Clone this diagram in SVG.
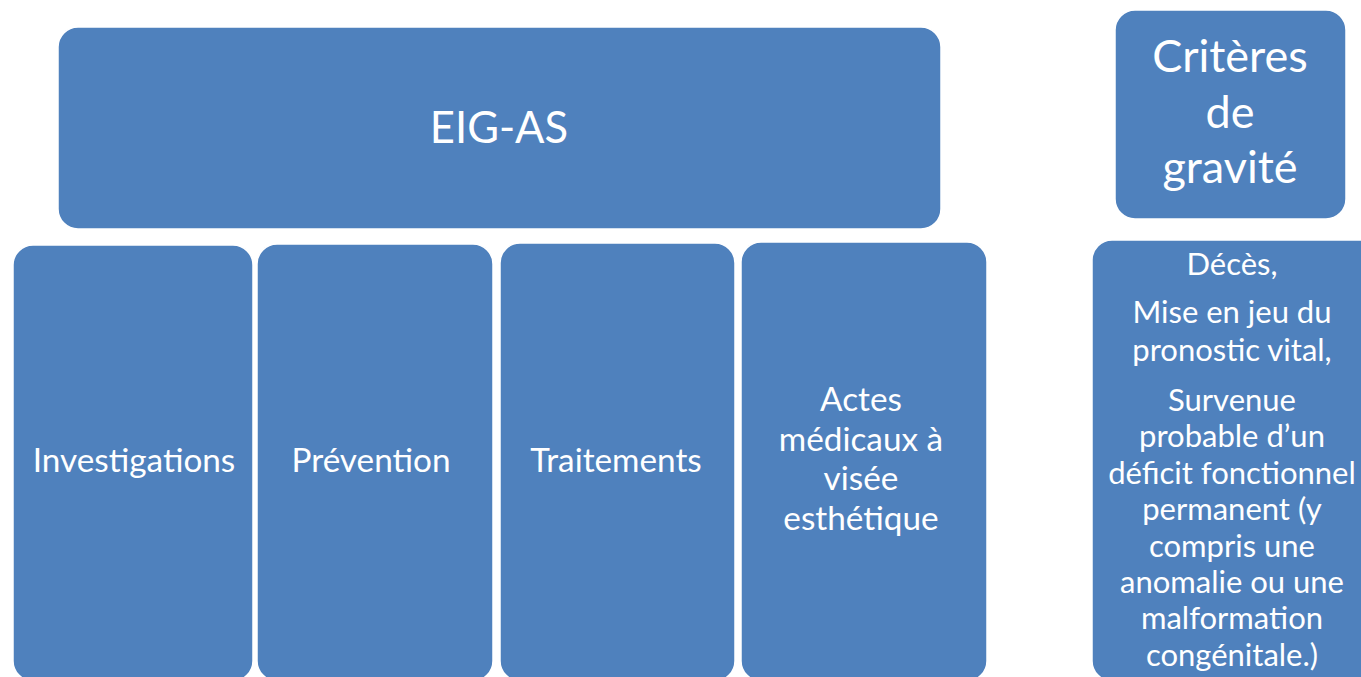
<svg xmlns="http://www.w3.org/2000/svg" width="1361" height="677" viewBox="0 0 1361 677">
<style>
.box{fill:#4F81BD;stroke:#ffffff;stroke-width:1.5}
.t{fill:#ffffff;font-family:Lato,"Open Sans","Liberation Sans",sans-serif;text-anchor:middle}
</style>
<rect width="1361" height="677" fill="#ffffff"/>
<g id="eig-as"><rect class="box" x="58" y="27" width="883" height="202" rx="20"/><text class="t" x="499" y="143" font-size="43.5">EIG-AS</text></g>
<g id="investigations"><rect class="box" x="13" y="245" width="240" height="436" rx="20"/><text class="t" x="134" y="472" font-size="33.3">Investigations</text></g>
<g id="prevention"><rect class="box" x="257" y="244" width="236" height="437" rx="20"/><text class="t" x="371" y="472" font-size="33.3">Prévention</text></g>
<g id="traitements"><rect class="box" x="500" y="243" width="235" height="438" rx="20"/><text class="t" x="616" y="472" font-size="33.3">Traitements</text></g>
<g id="actes"><rect class="box" x="741" y="242" width="246" height="439" rx="20"/><text class="t" x="861" y="411" font-size="33.3"><tspan x="861">Actes</tspan><tspan x="861" dy="39.5">médicaux à</tspan><tspan x="861" dy="39.5">visée</tspan><tspan x="861" dy="39.5">esthétique</tspan></text></g>
<g id="criteres"><rect class="box" x="1115" y="10" width="231" height="209" rx="20"/><text class="t" x="1230" y="72" font-size="45"><tspan x="1230">Critères</tspan><tspan x="1230" dy="55.5">de</tspan><tspan x="1230" dy="55.5">gravité</tspan></text></g>
<g id="deces"><rect class="box" x="1092" y="240" width="290" height="441" rx="20"/><text class="t" font-size="31"><tspan x="1232" y="275">Décès,</tspan><tspan x="1232" y="323">Mise en jeu du</tspan><tspan x="1232" y="361">pronostic vital,</tspan><tspan x="1232" y="411">Survenue</tspan><tspan x="1232" y="447">probable d’un</tspan><tspan x="1232" y="484">déficit fonctionnel</tspan><tspan x="1232" y="520">permanent (y</tspan><tspan x="1232" y="557">compris une</tspan><tspan x="1232" y="593">anomalie ou une</tspan><tspan x="1232" y="629">malformation</tspan><tspan x="1232" y="666">congénitale.)</tspan></text></g>
<g id="connectors"></g>
</svg>
